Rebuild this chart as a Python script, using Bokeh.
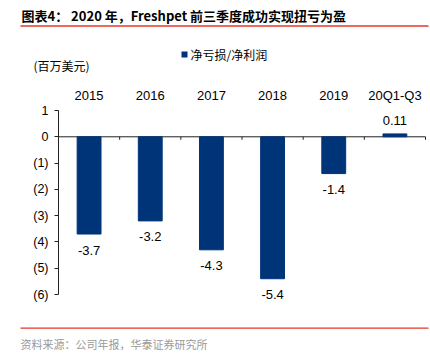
from bokeh.plotting import figure
from bokeh.models import Range1d, FixedTicker, ColumnDataSource, LinearAxis
from bokeh.embed import file_html
from bokeh.resources import INLINE
from bokeh.core.properties import value

categories = ["2015", "2016", "2017", "2018", "2019", "20Q1-Q3"]
net_income = [-3.7, -3.2, -4.3, -5.4, -1.4, 0.11]
value_labels = ["-3.7", "-3.2", "-4.3", "-5.4", "-1.4", "0.11"]
y_ticks = [1, 0, -1, -2, -3, -4, -5, -6]
y_tick_labels = ["1", "0", "(1)", "(2)", "(3)", "(4)", "(5)", "(6)"]
series_name = "净亏损/净利润"
title_text = "图表4：  2020 年，Freshpet 前三季度成功实现扭亏为盈"
unit_text = "(百万美元)"
source_text = "资料来源：公司年报，华泰证券研究所"

W, H = 430, 354
# plot area in canvas pixels
PL, PR, PT, PB = 58, 425, 110, 294
BAR_COLOR = "#003478"
RED = "#E5352B"
AXIS_COLOR = "#222222"
LATIN = "Liberation Sans"
CJK = "Noto Sans CJK SC"

n = len(categories)
idx = list(range(n))
y_hi, y_lo = max(y_ticks), min(y_ticks)
x_first, x_last = -0.5, n - 0.5

x_ppu = (PR - PL) / (x_last - x_first)
y_ppu = (PB - PT) / (y_hi - y_lo)
x_min = x_first - PL / x_ppu
x_max = x_last + (W - PR) / x_ppu
y_max = y_hi + PT / y_ppu
y_min = y_lo - (H - PB) / y_ppu


def X(px):
    return x_min + px / x_ppu


def Y(py):
    return y_max - py / y_ppu


p = figure(width=W, height=H, output_backend="svg", toolbar_location=None,
           x_range=Range1d(x_min, x_max), y_range=Range1d(y_min, y_max),
           min_border=0, x_axis_location=None, y_axis_location=None)
p.outline_line_color = None
p.xgrid.grid_line_color = None
p.ygrid.grid_line_color = None
p.background_fill_color = "white"
p.border_fill_color = "white"

# value axis (left)
ya = LinearAxis(fixed_location=x_first, bounds=(y_lo, y_hi),
                ticker=FixedTicker(ticks=y_ticks),
                major_label_overrides={t: l for t, l in zip(y_ticks, y_tick_labels)})
ya.minor_tick_line_color = None
ya.major_tick_in = 0
ya.major_tick_out = 4
ya.major_label_standoff = 6
ya.axis_line_color = AXIS_COLOR
ya.major_tick_line_color = AXIS_COLOR
ya.major_label_text_font = LATIN
ya.major_label_text_font_size = "12.5px"
ya.major_label_text_color = "black"
p.add_layout(ya, "left")

# category axis (top)
xa = LinearAxis(fixed_location=y_hi, ticker=FixedTicker(ticks=idx),
                major_label_overrides={i: c for i, c in zip(idx, categories)})
xa.axis_line_color = None
xa.major_tick_line_color = None
xa.minor_tick_line_color = None
xa.major_tick_in = 0
xa.major_tick_out = 0
xa.major_label_standoff = 8
xa.major_label_text_font = LATIN
xa.major_label_text_font_size = "13px"
xa.major_label_text_color = "black"
p.add_layout(xa, "above")

# zero line with boundary ticks
p.segment(x0=[x_first], y0=[0], x1=[x_last], y1=[0], line_color=AXIS_COLOR, line_width=1)
bounds = [i - 0.5 for i in range(n + 1)]
tick_len = 3 / y_ppu
p.segment(x0=bounds, y0=[0] * len(bounds), x1=bounds, y1=[-tick_len] * len(bounds),
          line_color=AXIS_COLOR, line_width=1)

src = ColumnDataSource(dict(x=idx, top=net_income, text=value_labels,
                            yoff=[16 if v < 0 else -13 for v in net_income]))
p.vbar(x="x", top="top", bottom=0, width=0.39, source=src,
       fill_color=BAR_COLOR, line_color=BAR_COLOR)
p.text(x="x", y="top", text="text", y_offset="yoff", source=src,
       text_font=value(LATIN), text_font_size="13px", text_align="center",
       text_baseline="middle", text_color="black")

# header
p.text(x=[X(21)], y=[Y(15)], text=[title_text], text_font=value(CJK),
       text_font_size="13px", text_font_style="bold", text_baseline="middle",
       text_align="left", text_color="black")
p.segment(x0=[X(20)], y0=[Y(25.5)], x1=[X(428)], y1=[Y(25.5)], line_color=RED, line_width=1.3)
p.scatter(x=[X(184)], y=[Y(54)], marker="square", size=6, fill_color=BAR_COLOR, line_color=None)
p.text(x=[X(190)], y=[Y(54)], text=[series_name], text_font=value(CJK),
       text_font_size="12px", text_baseline="middle", text_align="left", text_color="black")
p.text(x=[X(33)], y=[Y(65)], text=[unit_text], text_font=value(CJK),
       text_font_size="12px", text_baseline="middle", text_align="left", text_color="black")

# footer
p.segment(x0=[X(20)], y0=[Y(327.7)], x1=[X(428)], y1=[Y(327.7)], line_color=RED, line_width=1.3)
p.text(x=[X(20)], y=[Y(343)], text=[source_text], text_font=value(CJK),
       text_font_size="11px", text_baseline="middle", text_align="left", text_color="#9A9A9A")

open("out.html", "w").write(file_html(p, INLINE))
